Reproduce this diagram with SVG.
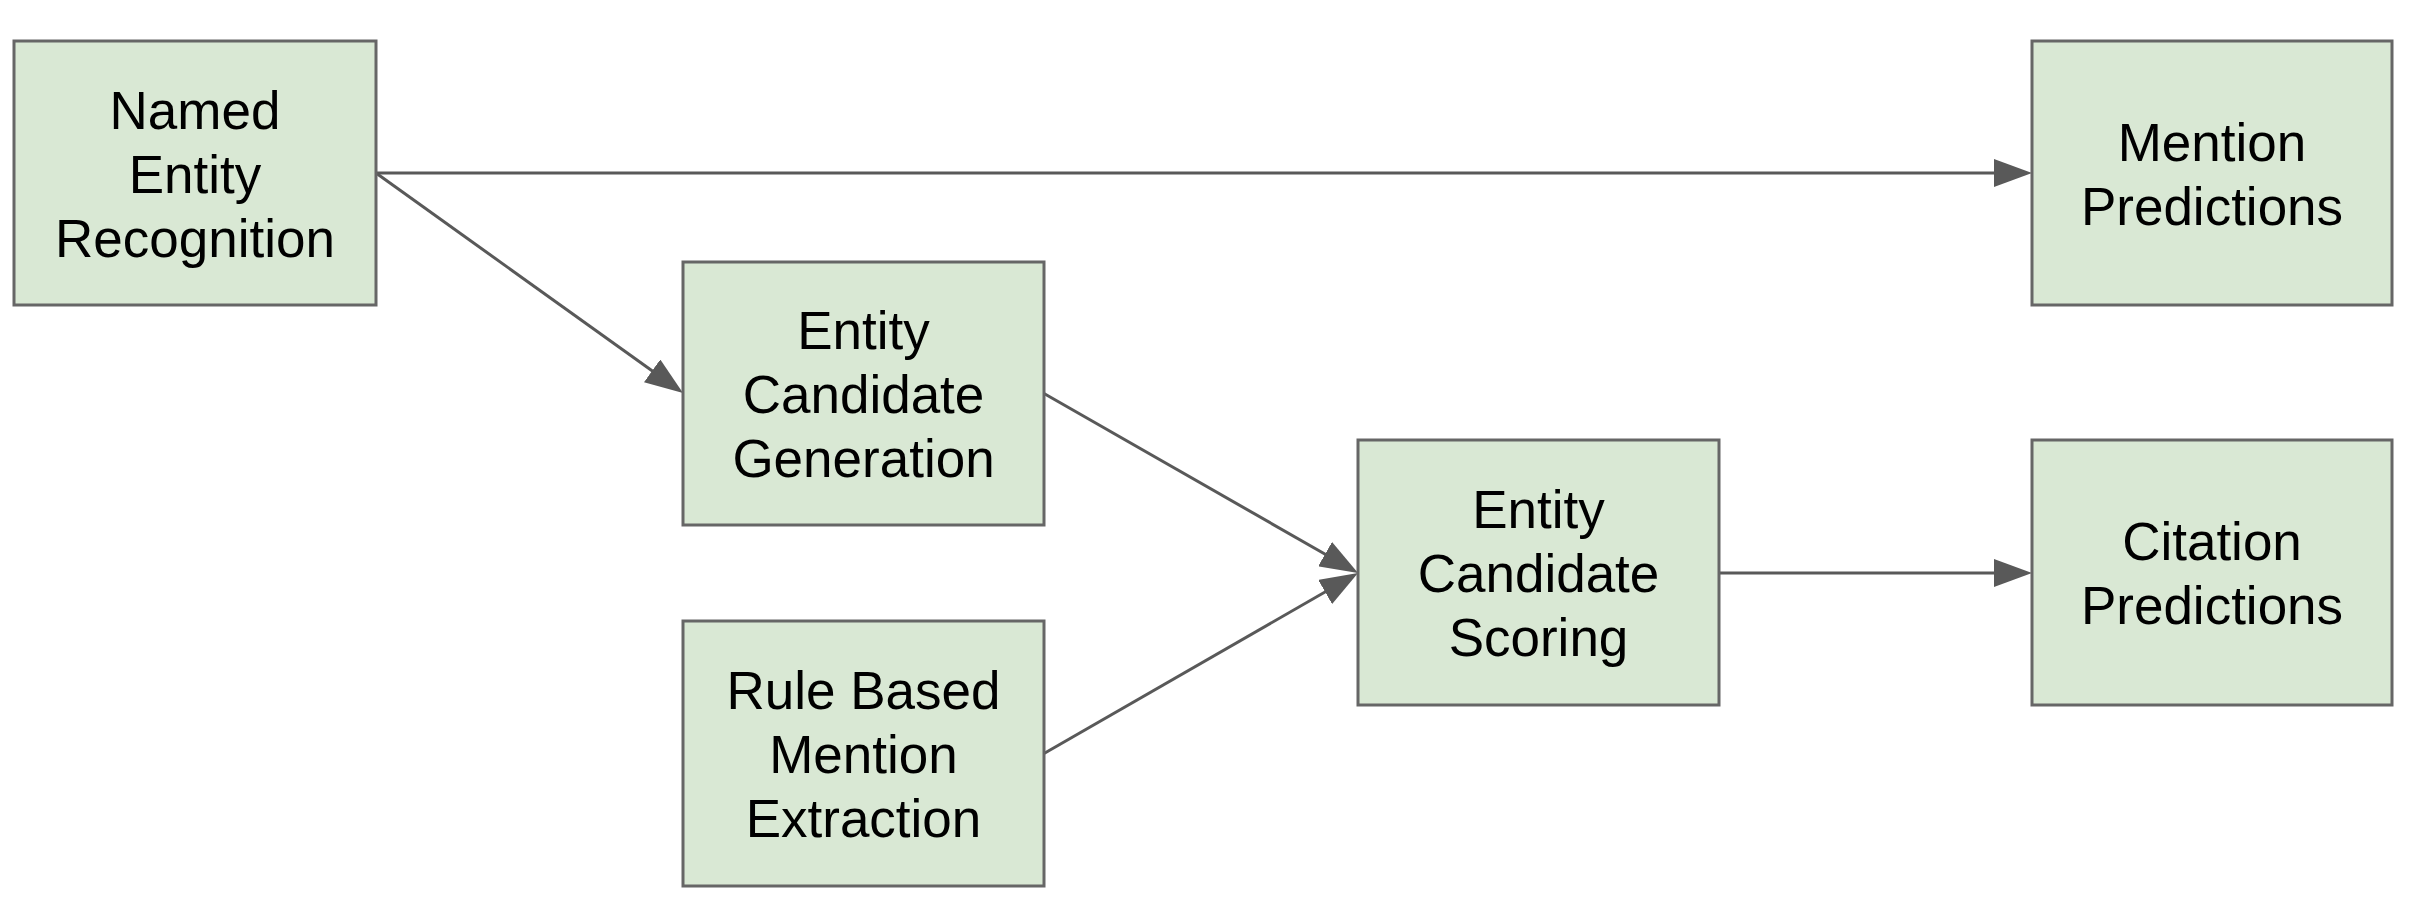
<svg xmlns="http://www.w3.org/2000/svg" width="2428" height="910" viewBox="0 0 2428 910">
  <style>
    .box { fill: #d9e8d4; stroke: #666666; stroke-width: 3; }
    .lbl { font-family: "Liberation Sans", Arial, sans-serif; font-size: 53px; fill: #000000; text-anchor: middle; }
    .edge { stroke: #595959; stroke-width: 3; fill: none; }
  </style>
  <defs>
    <marker id="arrow" markerUnits="userSpaceOnUse" markerWidth="38" markerHeight="28" viewBox="0 0 38 28" refX="30" refY="14" orient="auto">
      <path d="M0,0 L38,14 L0,28 z" fill="#595959"/>
    </marker>
  </defs>
  <rect width="2428" height="910" fill="#ffffff"/>

  <g id="connectors">
    <line class="edge" x1="376" y1="173" x2="2024" y2="173" marker-end="url(#arrow)"/>
    <line class="edge" x1="376" y1="173" x2="676.5" y2="388.3" marker-end="url(#arrow)"/>
    <line class="edge" x1="1044" y1="393.5" x2="1351.1" y2="569" marker-end="url(#arrow)"/>
    <line class="edge" x1="1044" y1="753.5" x2="1351.1" y2="577" marker-end="url(#arrow)"/>
    <line class="edge" x1="1719" y1="573" x2="2024" y2="573" marker-end="url(#arrow)"/>
  </g>

  <g id="ner">
    <rect class="box" x="14" y="41" width="362" height="264"/>
    <text class="lbl" x="195" y="129">Named</text>
    <text class="lbl" x="195" y="193">Entity</text>
    <text class="lbl" x="195" y="257">Recognition</text>
  </g>

  <g id="ecg">
    <rect class="box" x="683" y="262" width="361" height="263"/>
    <text class="lbl" x="863.5" y="349">Entity</text>
    <text class="lbl" x="863.5" y="413">Candidate</text>
    <text class="lbl" x="863.5" y="477">Generation</text>
  </g>

  <g id="rule">
    <rect class="box" x="683" y="621" width="361" height="265"/>
    <text class="lbl" x="863.5" y="709">Rule Based</text>
    <text class="lbl" x="863.5" y="773">Mention</text>
    <text class="lbl" x="863.5" y="837">Extraction</text>
  </g>

  <g id="scoring">
    <rect class="box" x="1358" y="440" width="361" height="265"/>
    <text class="lbl" x="1538.5" y="528">Entity</text>
    <text class="lbl" x="1538.5" y="592">Candidate</text>
    <text class="lbl" x="1538.5" y="656">Scoring</text>
  </g>

  <g id="mention">
    <rect class="box" x="2032" y="41" width="360" height="264"/>
    <text class="lbl" x="2212" y="161">Mention</text>
    <text class="lbl" x="2212" y="225">Predictions</text>
  </g>

  <g id="citation">
    <rect class="box" x="2032" y="440" width="360" height="265"/>
    <text class="lbl" x="2212" y="560">Citation</text>
    <text class="lbl" x="2212" y="624">Predictions</text>
  </g>
</svg>
